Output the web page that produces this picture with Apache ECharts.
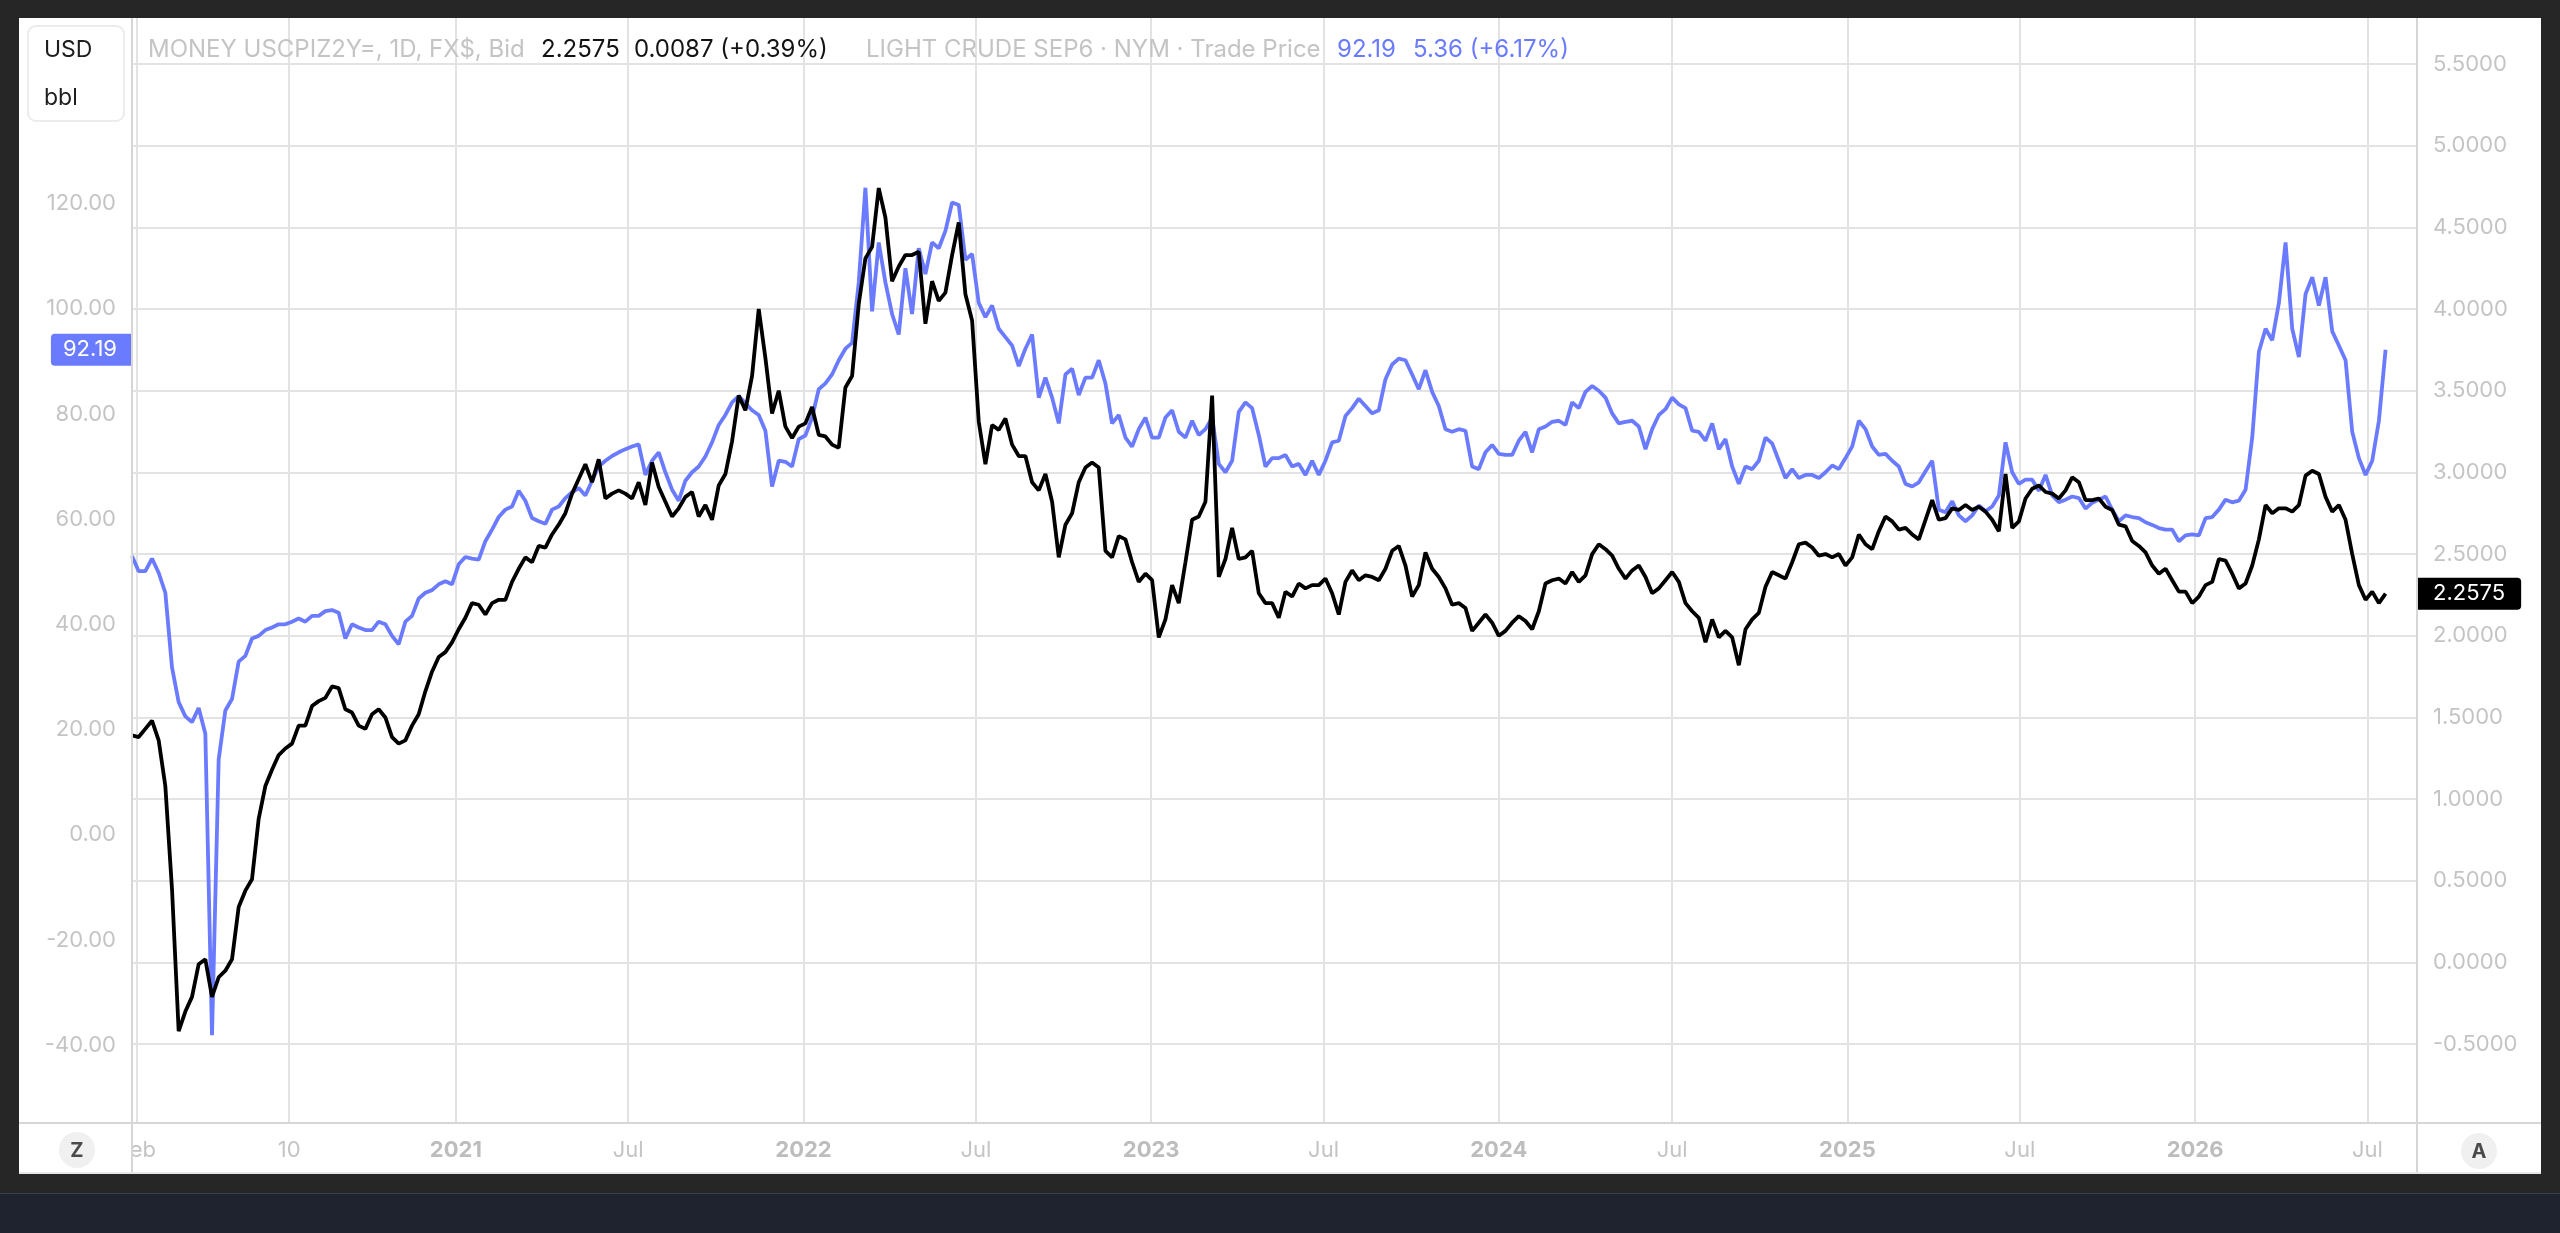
<!DOCTYPE html>
<html><head><meta charset="utf-8">
<script src="https://cdn.jsdelivr.net/npm/echarts@6/dist/echarts.min.js"></script>
<style>
html,body{margin:0;padding:0;background:#262626;overflow:hidden;width:2560px;height:1233px}
#panel{position:absolute;left:19px;top:18px;width:2522px;height:1156px;background:#fff}
#strip{position:absolute;left:0;top:1193px;width:2560px;height:40px;background:#1f2330;border-top:1px solid #3a3f4c}
#c{position:absolute;left:0;top:0;width:2560px;height:1233px}
</style>
</head><body><div id="panel"></div><div id="strip"></div><div id="c"></div>
<script>
// weekly samples (Mondays) starting at this date
const sampleStart = [2020, 0, 27];
// LIGHT CRUDE (left axis, USD/bbl)
const crude = [
53.0,50.1,50.1,52.5,49.8,46.0,31.8,25.2,22.5,21.4,
24.1,19.2,-38.1,14.3,23.6,25.8,32.9,34.0,37.3,37.8,
38.9,39.4,40.0,40.0,40.5,41.1,40.5,41.6,41.6,42.5,
42.7,42.2,37.3,40.0,39.4,38.9,38.9,40.5,40.0,37.8,
36.2,40.5,41.6,44.9,46.0,46.5,47.6,48.2,47.6,51.4,
52.8,52.5,52.3,55.8,58.0,60.4,61.8,62.4,65.4,63.5,
60.2,59.6,59.1,61.8,62.4,64.0,65.1,65.9,64.5,67.3,
70.0,71.1,72.0,72.7,73.3,73.8,74.2,68.4,71.1,72.7,
68.9,65.6,63.5,67.3,68.9,70.0,71.9,74.6,77.9,79.8,
82.2,83.4,82.0,80.7,79.8,76.8,66.2,71.1,70.9,70.0,
75.2,75.9,79.3,84.7,85.8,87.5,90.2,92.4,93.5,105.0,
123.0,99.5,112.6,105.0,99.0,95.1,107.7,99.0,111.5,106.6,
112.6,111.5,114.8,120.2,119.7,109.3,110.4,101.1,98.4,100.6,
96.2,94.6,93.0,89.1,92.4,95.1,83.1,86.9,83.1,78.2,
87.5,88.6,83.6,86.9,86.9,90.2,85.8,78.2,79.8,75.5,
73.8,77.1,79.3,75.5,75.5,79.3,80.7,76.6,75.5,78.7,
76.0,77.1,79.3,70.5,68.9,71.1,80.4,82.2,81.1,76.0,
70.0,71.6,71.6,72.2,70.0,70.5,68.4,71.1,68.4,71.1,
74.6,74.9,79.6,81.1,82.9,81.5,80.1,80.7,86.6,89.4,
90.5,90.2,87.5,84.7,88.3,84.2,81.5,77.1,76.6,77.1,
76.8,70.0,69.5,72.7,74.1,72.4,72.2,72.2,74.9,76.6,
72.7,77.1,77.6,78.5,78.7,77.9,82.2,81.1,84.2,85.3,
84.4,83.1,80.1,78.2,78.5,78.7,77.6,73.3,77.1,79.8,
80.9,83.1,81.8,81.1,76.8,76.6,74.9,78.2,73.3,75.2,
70.0,66.7,70.0,69.5,71.1,75.5,74.4,71.1,67.8,69.5,
67.8,68.4,68.4,67.8,68.9,70.2,69.5,71.6,73.8,78.7,
77.1,73.8,72.2,72.4,71.1,70.0,66.7,66.2,67.0,69.1,
71.1,61.8,61.3,63.4,60.7,59.6,60.7,62.6,61.5,62.4,
64.5,74.6,68.9,66.7,67.5,67.5,65.4,68.4,64.5,63.2,
63.7,64.3,64.0,62.0,63.1,63.7,64.3,61.8,59.6,60.7,
60.4,60.2,59.4,58.9,58.3,58.0,58.0,55.8,56.9,57.1,
56.9,60.2,60.4,61.8,63.7,63.2,63.5,65.6,75.5,91.8,
96.2,94.0,101.1,112.6,96.2,90.8,102.8,106.0,100.6,106.0,
95.7,93.0,90.2,76.6,71.6,68.4,71.1,78.7,92.19
];
// MONEY USCPIZ2Y= (right axis)
const swap2y = [
1.39,1.38,1.43,1.48,1.36,1.08,0.45,-0.42,-0.30,-0.21,
-0.01,0.02,-0.21,-0.09,-0.05,0.02,0.34,0.44,0.51,0.88,
1.08,1.18,1.27,1.31,1.34,1.45,1.45,1.57,1.60,1.62,
1.69,1.68,1.55,1.53,1.45,1.43,1.52,1.55,1.50,1.38,
1.34,1.36,1.45,1.52,1.66,1.78,1.87,1.90,1.96,2.04,
2.11,2.20,2.19,2.13,2.20,2.22,2.22,2.33,2.41,2.48,
2.45,2.55,2.54,2.62,2.68,2.75,2.87,2.96,3.05,2.94,
3.08,2.84,2.87,2.89,2.87,2.84,2.94,2.80,3.06,2.91,
2.82,2.73,2.78,2.85,2.88,2.73,2.80,2.71,2.92,2.99,
3.19,3.47,3.38,3.59,4.00,3.70,3.36,3.50,3.28,3.21,
3.28,3.30,3.40,3.23,3.22,3.17,3.15,3.52,3.59,4.03,
4.31,4.38,4.74,4.56,4.17,4.26,4.33,4.33,4.35,3.91,
4.17,4.05,4.10,4.33,4.53,4.09,3.93,3.31,3.05,3.29,
3.26,3.33,3.17,3.10,3.10,2.94,2.89,2.99,2.82,2.48,
2.68,2.75,2.94,3.03,3.06,3.03,2.52,2.48,2.61,2.59,
2.45,2.33,2.38,2.34,1.99,2.10,2.31,2.20,2.45,2.71,
2.73,2.82,3.47,2.36,2.47,2.66,2.47,2.48,2.52,2.26,
2.20,2.20,2.11,2.27,2.24,2.32,2.29,2.31,2.31,2.35,
2.26,2.13,2.33,2.40,2.34,2.37,2.36,2.34,2.41,2.52,
2.55,2.43,2.24,2.31,2.51,2.41,2.36,2.29,2.19,2.20,
2.17,2.03,2.08,2.13,2.08,2.00,2.03,2.08,2.12,2.09,
2.04,2.15,2.32,2.34,2.35,2.32,2.39,2.33,2.37,2.50,
2.56,2.53,2.49,2.41,2.35,2.40,2.43,2.36,2.26,2.29,
2.34,2.39,2.33,2.20,2.15,2.11,1.96,2.10,1.99,2.03,
1.99,1.82,2.04,2.10,2.14,2.30,2.39,2.37,2.35,2.45,
2.56,2.57,2.54,2.49,2.50,2.48,2.50,2.43,2.48,2.62,
2.56,2.53,2.64,2.73,2.70,2.65,2.66,2.62,2.59,2.71,
2.83,2.71,2.72,2.78,2.77,2.80,2.77,2.79,2.76,2.71,
2.64,2.99,2.66,2.70,2.84,2.90,2.92,2.88,2.87,2.84,
2.89,2.97,2.94,2.83,2.83,2.84,2.79,2.77,2.68,2.67,
2.58,2.55,2.51,2.43,2.38,2.41,2.34,2.27,2.27,2.20,
2.24,2.31,2.33,2.47,2.46,2.38,2.29,2.32,2.43,2.59,
2.80,2.75,2.78,2.78,2.76,2.80,2.98,3.01,2.99,2.85,
2.76,2.80,2.71,2.50,2.31,2.22,2.27,2.20,2.2575
];
const xTickDates = ['2020-02-01','2020-07-10','2021-01-01','2021-07-01','2022-01-01','2022-07-01','2023-01-01','2023-07-01','2024-01-01','2024-07-01','2025-01-01','2025-07-01','2026-01-01','2026-07-01'];
const xTickLabels = ['Feb','10','2021','Jul','2022','Jul','2023','Jul','2024','Jul','2025','Jul','2026','Jul'];
const xRange = ['2020-01-27','2026-08-22'];
const leftTicks = [-40,-20,0,20,40,60,80,100,120];
const rightTicks = [-0.5,0,0.5,1,1.5,2,2.5,3,3.5,4,4.5,5,5.5];
const leftRange = [-54.81, 155.27];
const rightRange = [-0.982, 5.781];
const unitLabels = ['USD','bbl'];
const swapTitle = 'MONEY USCPIZ2Y=, 1D, FX$, Bid';
const swapLast = '2.2575';
const swapChange = '0.0087 (+0.39%)';
const crudeTitle = 'LIGHT CRUDE SEP6 · NYM · Trade Price';
const crudeLast = '92.19';
const crudeChange = '5.36 (+6.17%)';

const FONT = 'Inter, "Noto Sans", sans-serif';
const BLUE = '#6a7bff';
const GRID = '#e3e3e3';
const LABEL = '#c4c4c4';
const SEP = '#d6d6d6';

function parseDay(s){ const p = s.split('-').map(Number); return new Date(p[0], p[1]-1, p[2]).getTime(); }
const dates = crude.map((_, i) => new Date(sampleStart[0], sampleStart[1], sampleStart[2] + 7*i).getTime());
const tickVals = xTickDates.map(parseDay);
const labelOf = {};
tickVals.forEach((v, i) => { labelOf[v] = xTickLabels[i]; });

const chart = echarts.init(document.getElementById('c'), null, {renderer: 'canvas'});

function txt(x, y, text, size, fill, weight, align){
  return {type:'text', x:x, y:y, z:100, silent:true,
    style:{text:text, fontSize:size, fontFamily:FONT, fill:fill, fontWeight:weight||'normal', align:align||'left', verticalAlign:'middle'}};
}
function line(x1,y1,x2,y2,color){
  return {type:'line', z:90, silent:true, shape:{x1:x1,y1:y1,x2:x2,y2:y2}, style:{stroke:color, lineWidth:2}};
}

const option = {
  backgroundColor: 'transparent',
  animation: false,
  grid: {left:132, right:143, top:18, bottom:110, containLabel:false},
  xAxis: {
    type:'value', min:parseDay(xRange[0]), max:parseDay(xRange[1]),
    axisLine:{show:false}, axisTick:{show:false, customValues:tickVals},
    splitLine:{show:true, lineStyle:{color:GRID, width:2}},
    axisLabel:{customValues:tickVals, margin:16, fontSize:22, fontFamily:FONT, color:LABEL,
      formatter: v => { const l = labelOf[v] || ''; return /^\d{4}$/.test(l) ? '{y|' + l + '}' : '{m|' + l + '}'; },
      rich:{y:{fontSize:22, fontFamily:FONT, color:'#bdbdbd', fontWeight:'bold'}, m:{fontSize:22, fontFamily:FONT, color:LABEL}}}
  },
  yAxis: [
    {type:'value', position:'left', min:leftRange[0], max:leftRange[1],
      axisLine:{show:false}, axisTick:{show:false, customValues:leftTicks}, splitLine:{show:false},
      axisLabel:{customValues:leftTicks, formatter: v => v.toFixed(2), margin:16, fontSize:22, fontFamily:FONT, color:LABEL},
      axisPointer:{show:true, status:'show', value: crude[crude.length-1], snap:false, triggerTooltip:false,
        lineStyle:{opacity:0}, handle:{show:false},
        label:{show:true, formatter: () => crudeLast, backgroundColor:BLUE, color:'#fff', fontSize:22, fontFamily:FONT, padding:[5,14,5,12], borderRadius:[4,0,0,4], margin:1}}
    },
    {type:'value', position:'right', min:rightRange[0], max:rightRange[1],
      axisLine:{show:false}, axisTick:{show:false, customValues:rightTicks},
      splitLine:{show:true, lineStyle:{color:GRID, width:2}},
      axisLabel:{customValues:rightTicks, formatter: v => v.toFixed(4), margin:16, fontSize:22, fontFamily:FONT, color:LABEL},
      axisPointer:{show:true, status:'show', value: swap2y[swap2y.length-1], snap:false, triggerTooltip:false,
        lineStyle:{opacity:0}, handle:{show:false},
        label:{show:true, formatter: () => swapLast, backgroundColor:'#000', color:'#fff', fontSize:22, fontFamily:FONT, padding:[5,16,5,15], borderRadius:[0,4,4,0], margin:1}}
    }
  ],
  series: [
    {name:'crude', type:'line', yAxisIndex:0, showSymbol:false, symbol:'none', z:2,
      data: dates.map((d, i) => [d, crude[i]]), lineStyle:{color:BLUE, width:3.8}},
    {name:'swap', type:'line', yAxisIndex:1, showSymbol:false, symbol:'none', z:3,
      data: dates.map((d, i) => [d, swap2y[i]]), lineStyle:{color:'#000', width:3.8}}
  ],
  graphic: [
    line(132,18,132,1174,SEP), line(2417,18,2417,1174,SEP),
    line(19,1123,2541,1123,SEP), line(19,1173,2541,1173,'#e6e6e6'),
    {type:'rect', z:95, silent:true, shape:{x:20, y:1125, width:111, height:47}, style:{fill:'#fff'}},
    {type:'circle', z:96, silent:true, shape:{cx:77, cy:1150, r:18}, style:{fill:'#f0f0f0'}},
    txt(77, 1151, 'Z', 20, '#4a4a4a', 'bold', 'center'),
    {type:'circle', z:96, silent:true, shape:{cx:2479, cy:1151, r:18}, style:{fill:'#f0f0f0'}},
    txt(2479, 1152, 'A', 20, '#4a4a4a', 'bold', 'center'),
    {type:'rect', z:96, silent:true, shape:{x:28, y:26, width:96, height:95, r:8}, style:{fill:'#fff', stroke:'#ececec', lineWidth:2}},
    txt(44, 50, unitLabels[0], 23, '#1e1e1e'),
    txt(44, 98, unitLabels[1], 23, '#1e1e1e'),
    txt(148, 50, swapTitle, 24, '#c4c4c4'),
    txt(541, 50, swapLast, 24, '#131313'),
    txt(634, 50, swapChange, 24, '#131313'),
    txt(866, 50, crudeTitle, 24, '#c4c4c4'),
    txt(1337, 50, crudeLast, 24, BLUE),
    txt(1413, 50, crudeChange, 24, BLUE)
  ]
};
chart.setOption(option);
</script>
</body></html>
